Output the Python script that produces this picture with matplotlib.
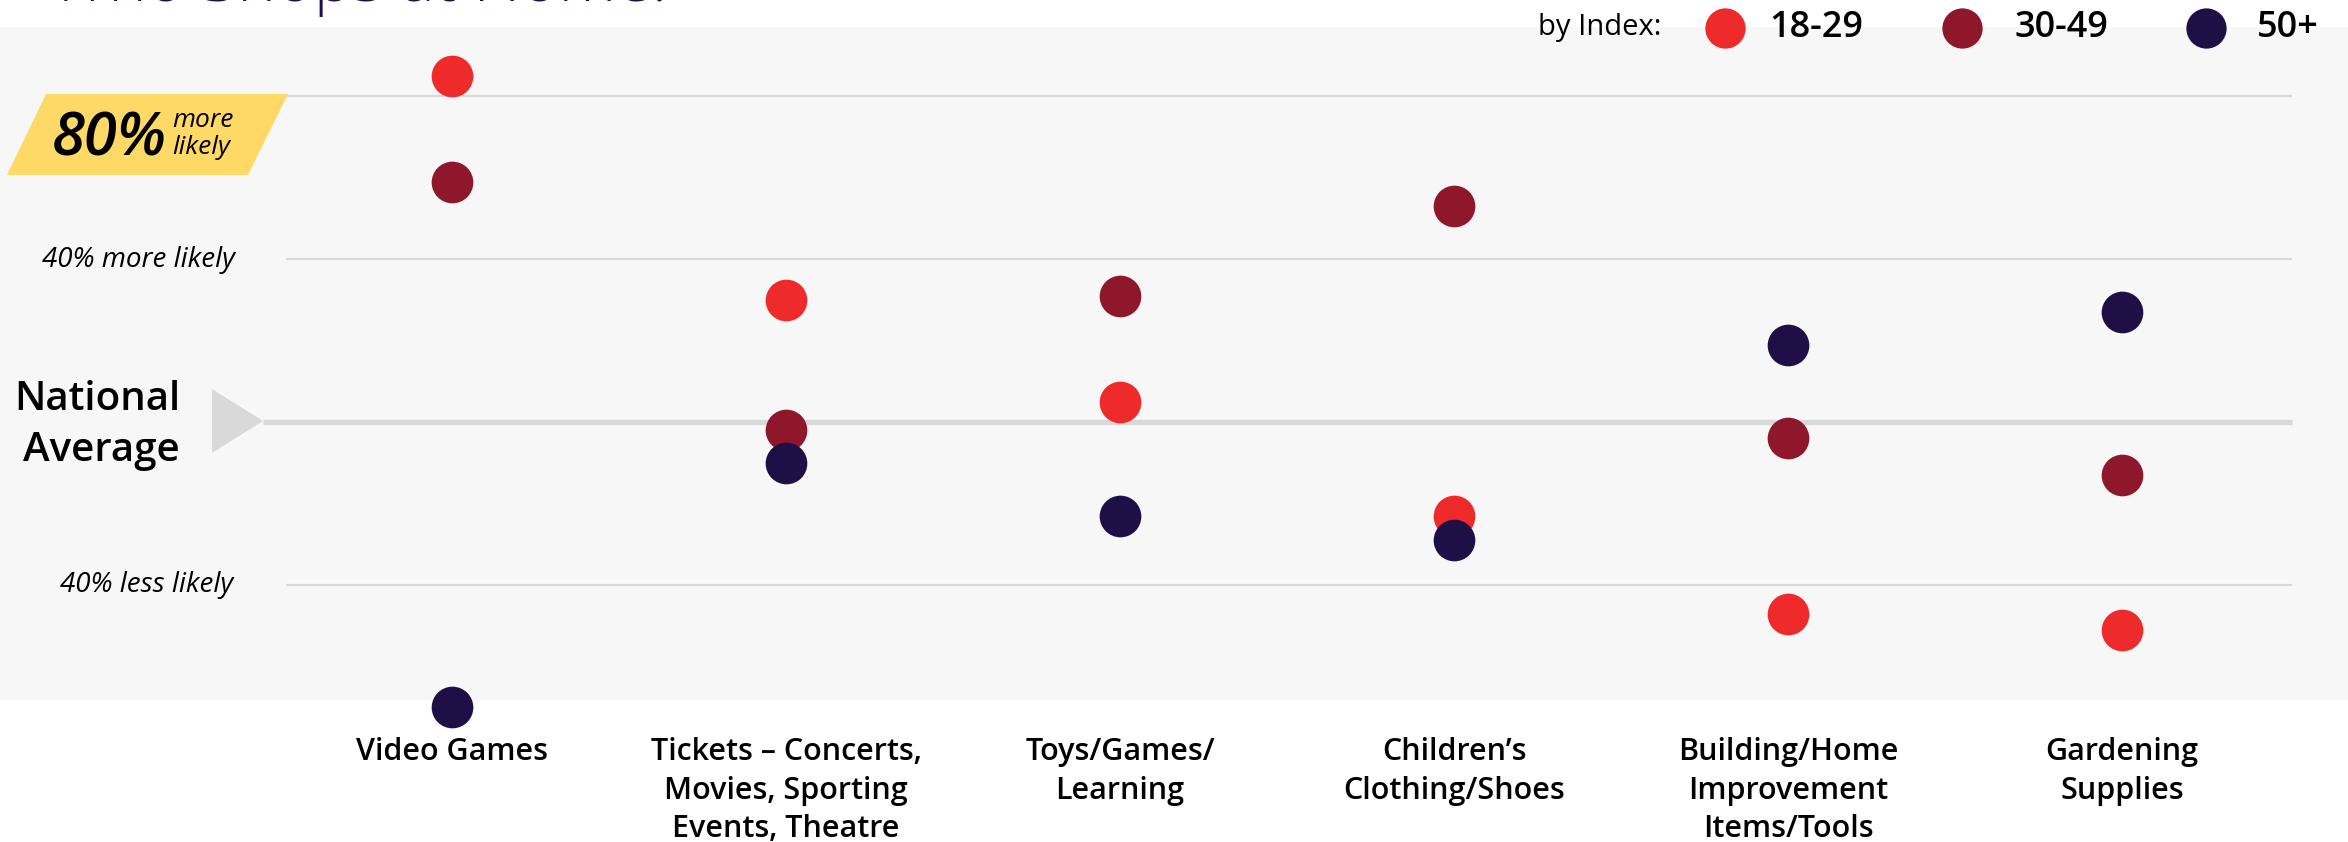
import matplotlib
matplotlib.use("Agg")
import matplotlib.pyplot as plt
import matplotlib.transforms as mtransforms
from matplotlib.patches import Polygon, Rectangle
from matplotlib.lines import Line2D

# ---------------- data ----------------
categories = [
    "Video Games",
    "Tickets – Concerts,\nMovies, Sporting\nEvents, Theatre",
    "Toys/Games/\nLearning",
    "Children’s\nClothing/Shoes",
    "Building/Home\nImprovement\nItems/Tools",
    "Gardening\nSupplies",
]
series_names = ["18-29", "30-49", "50+"]
series_colors = ["#EE2A2A", "#8E172B", "#1E1046"]
# % above (+) / below (-) national average
age_18_29 = [85, 30, 5, -23, -47, -51]
age_30_49 = [59, -2, 31, 53, -4, -13]
age_50_plus = [-70, -10, -23, -29, 19, 27]
series_values = [age_18_29, age_30_49, age_50_plus]
ref_levels = [80, 40, -40]
ref_labels = ["80%", "40% more likely", "40% less likely"]

# ---------------- layout ----------------
W, H = 2348, 842
fig = plt.figure(figsize=(W / 100, H / 100), dpi=100)
fig.patch.set_facecolor("white")
ax = fig.add_axes([0, 0, 1, 1])
ax.axis("off")

x0_px, dx_px = 452, 334          # first category centre, spacing (pixels)
y0_px, py_per_pct = 422, 4.075   # national average line, pixels per %
ax.set_xlim(-x0_px / dx_px, (W - x0_px) / dx_px)
ax.set_ylim((y0_px - H) / py_per_pct, y0_px / py_per_pct)

# transform in pixels measured from the top-left corner
T = mtransforms.Affine2D().scale(1 / W, -1 / H).translate(0, 1) + fig.transFigure
blend = mtransforms.blended_transform_factory(fig.transFigure, ax.transData)
blend_xdata = mtransforms.blended_transform_factory(ax.transData, T)

FONT = "Open Sans"
GRID = "#D9D9D9"

# title (cut off at the top in the reference)
fig.text(50, 1, "Who Shops at Home.", transform=T, fontsize=47, family=FONT,
         weight="light", color="#1E1046", ha="left", va="baseline")

# grey panel
ax.add_patch(Rectangle((0, 27), W, 673, transform=T, facecolor="#F7F7F7",
                       edgecolor="none", zorder=0))

# reference lines
for v in ref_levels:
    ax.plot([286 / W, 2292 / W], [v, v], transform=blend, color=GRID,
            lw=1.6, zorder=1, solid_capstyle="butt")
ax.plot([263 / W, 2292 / W], [0, 0], transform=blend, color=GRID,
        lw=3.8, zorder=1, solid_capstyle="butt")
ax.add_patch(Polygon([(212, 389), (212, 453), (263, 421)], closed=True,
                     transform=T, facecolor=GRID, edgecolor="none", zorder=1))

# yellow 80% badge
ax.add_patch(Polygon([(7, 175), (46, 94), (288, 94), (248, 175)], closed=True,
                     transform=T, facecolor="#FFD966", edgecolor="none", zorder=2))
fig.text(52, 155, ref_labels[0], transform=T, fontsize=43, family=FONT,
         style="italic", weight="semibold", color="black", ha="left", va="baseline")
fig.text(172, 127, "more", transform=T, fontsize=19, family=FONT,
         style="italic", color="black", ha="left", va="baseline")
fig.text(172, 154, "likely", transform=T, fontsize=19, family=FONT,
         style="italic", color="black", ha="left", va="baseline")

# side labels
fig.text(235, 260, ref_labels[1], transform=T, fontsize=20, family=FONT,
         style="italic", color="black", ha="right", va="center")
fig.text(233, 585, ref_labels[2], transform=T, fontsize=20, family=FONT,
         style="italic", color="black", ha="right", va="center")
for k, line in enumerate(["National", "Average"]):
    fig.text(180, 410 + 51 * k, line, transform=T, fontsize=29, family=FONT,
             weight="semibold", color="black", ha="right", va="baseline")

# dots
xs = list(range(len(categories)))
for vals, col, name in zip(series_values, series_colors, series_names):
    ax.scatter(xs, vals, s=900, color=col, linewidths=0, zorder=3, label=name)

# category labels (one text per line for exact line pitch)
for i, lab in enumerate(categories):
    for k, line in enumerate(lab.split("\n")):
        ax.text(i, 760 + 38.5 * k, line, transform=blend_xdata, fontsize=22,
                family=FONT, weight="semibold", color="black", ha="center",
                va="baseline")

# legend
fig.text(1538, 28, "by Index:", transform=T, fontsize=21, family=FONT,
         color="black", ha="left", va="center")
leg_dot_x = [1725, 1962, 2206]
leg_txt_x = [1769, 2014, 2257]
for name, col, dxp, txp in zip(series_names, series_colors, leg_dot_x, leg_txt_x):
    fig.add_artist(Line2D([dxp], [28], transform=T, marker="o", markersize=29,
                          markerfacecolor=col, markeredgewidth=0, linestyle="none"))
    fig.text(txp, 28, name, transform=T, fontsize=26, family=FONT,
             weight="semibold", color="black", ha="left", va="center")

fig.savefig("out.png", dpi=100, facecolor="white")
